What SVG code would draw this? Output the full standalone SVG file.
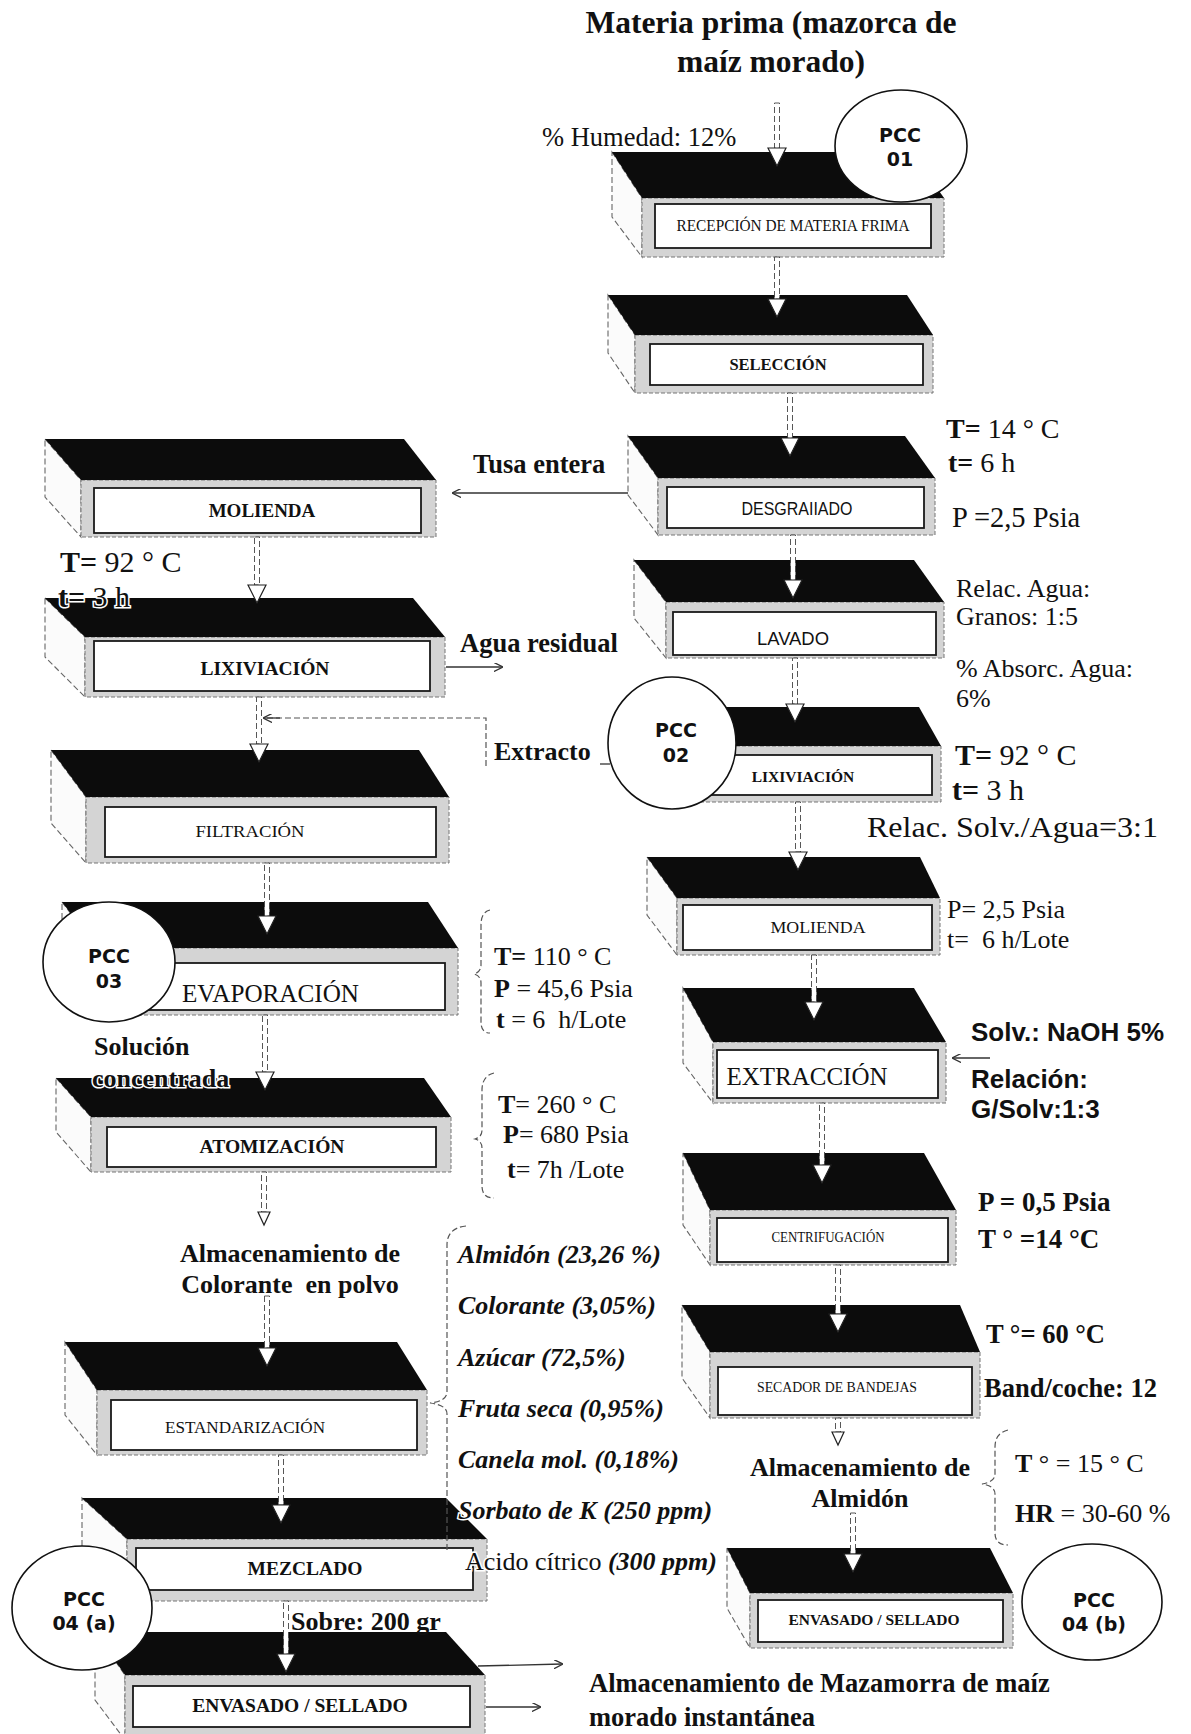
<svg xmlns="http://www.w3.org/2000/svg" xmlns:xlink="http://www.w3.org/1999/xlink" width="1191" height="1734" viewBox="0 0 1191 1734">
<defs>
<style>
.top{fill:#0c0c0c}
.front{fill:#d4d4d4;stroke:#777;stroke-width:1;stroke-dasharray:4 2}
.side{fill:#fbfbfb;stroke:#666;stroke-width:1.1;stroke-dasharray:6 3}
.lab{fill:#fff;stroke:#1a1a1a;stroke-width:1.8}
.pcc{fill:#fff;stroke:#111;stroke-width:1.6}
.s{font-family:"Liberation Serif","Times New Roman",serif;fill:#111}
.ss{font-family:"Liberation Sans",Arial,sans-serif;fill:#111}
.b{font-weight:bold}
.i{font-style:italic}
.m{text-anchor:middle}
.halo{stroke:#fff;stroke-width:3;paint-order:stroke}
.shaft{fill:#fff;stroke:#444;stroke-width:0.9;stroke-dasharray:6 3}
.head{fill:#fff;stroke:#222;stroke-width:1.2}
.ln{fill:none;stroke:#333;stroke-width:1.3}
.dl{fill:none;stroke:#555;stroke-width:1.2;stroke-dasharray:6 3}
.pt{font-family:"DejaVu Sans","Liberation Sans",Arial,sans-serif;font-weight:bold;font-size:19px;fill:#111;text-anchor:middle}
</style>
<path id="ah" class="head" d="M-9,-18 L9,-18 L0,0 Z"/>
<marker id="oa" viewBox="0 0 10 10" refX="9" refY="5" markerWidth="9" markerHeight="9" orient="auto" markerUnits="userSpaceOnUse">
<path d="M0,0 L10,5 L0,10" fill="none" stroke="#333" stroke-width="1.5"/>
</marker>
</defs>
<rect width="1191" height="1734" fill="#fff"/>

<!-- Right column nodes -->
<g id="n-recepcion">
<polygon class="side" points="612,152 642,198 642,257 612,217"/>
<rect class="front" x="642" y="198" width="302" height="59"/>
<polygon class="top" points="612,152 912,152 944,198 642,198"/>
<rect class="lab" x="655" y="204" width="276" height="44"/>
<text class="s m" x="793" y="231" font-size="16" textLength="233" lengthAdjust="spacingAndGlyphs">RECEPCIÓN DE MATERIA FRIMA</text>
</g>
<g id="n-seleccion">
<polygon class="side" points="608,295 635,335 635,393 608,353"/>
<rect class="front" x="635" y="335" width="298" height="58"/>
<polygon class="top" points="608,295 907,295 933,335 635,335"/>
<rect class="lab" x="650" y="344" width="273" height="41"/>
<text class="s b m" x="778" y="370" font-size="16.5">SELECCIÓN</text>
</g>
<g id="n-desgranado">
<polygon class="side" points="628,436 658,478 658,535 628,495"/>
<rect class="front" x="658" y="478" width="277" height="57"/>
<polygon class="top" points="628,436 905,436 935,478 658,478"/>
<rect class="lab" x="667" y="487" width="257" height="41"/>
<text class="ss m" x="797" y="515" font-size="18" textLength="111" lengthAdjust="spacingAndGlyphs">DESGRAIIADO</text>
</g>
<g id="n-lavado">
<polygon class="side" points="634,560 666,602 666,658 634,618"/>
<rect class="front" x="666" y="602" width="278" height="56"/>
<polygon class="top" points="634,560 914,560 944,602 666,602"/>
<rect class="lab" x="673" y="612" width="263" height="43"/>
<text class="ss m" x="793" y="645" font-size="18" textLength="72" lengthAdjust="spacingAndGlyphs">LAVADO</text>
</g>
<g id="n-lixiviacion-r">
<polygon class="side" points="640,707 670,746 670,802 640,762"/>
<rect class="front" x="670" y="746" width="271" height="56"/>
<polygon class="top" points="640,707 919,707 941,746 670,746"/>
<rect class="lab" x="680" y="755" width="252" height="40"/>
<text class="s b m" x="803" y="782" font-size="15.5">LIXIVIACIÓN</text>
</g>
<g id="n-molienda-r">
<polygon class="side" points="647,857 677,898 677,955 647,915"/>
<rect class="front" x="677" y="898" width="263" height="57"/>
<polygon class="top" points="647,857 920,857 940,898 677,898"/>
<rect class="lab" x="683" y="905" width="249" height="45"/>
<text class="s m" x="818" y="933" font-size="16" textLength="95" lengthAdjust="spacingAndGlyphs">MOLIENDA</text>
</g>
<g id="n-extraccion">
<polygon class="side" points="683,988 713,1042 713,1103 683,1063"/>
<rect class="front" x="713" y="1042" width="233" height="61"/>
<polygon class="top" points="683,988 914,988 946,1042 713,1042"/>
<rect class="lab" x="717" y="1050" width="221" height="48"/>
<text class="s m" x="807" y="1085" font-size="26" textLength="161" lengthAdjust="spacingAndGlyphs">EXTRACCIÓN</text>
</g>
<g id="n-centrifugacion">
<polygon class="side" points="683,1153 710,1210 710,1265 683,1225"/>
<rect class="front" x="710" y="1210" width="246" height="55"/>
<polygon class="top" points="683,1153 924,1153 956,1210 710,1210"/>
<rect class="lab" x="717" y="1218" width="231" height="44"/>
<text class="s m" x="828" y="1242" font-size="14" textLength="113" lengthAdjust="spacingAndGlyphs">CENTRIFUGACIÓN</text>
</g>
<g id="n-secador">
<polygon class="side" points="682,1305 710,1352 710,1418 682,1378"/>
<rect class="front" x="710" y="1352" width="270" height="66"/>
<polygon class="top" points="682,1305 960,1305 980,1352 710,1352"/>
<rect class="lab" x="718" y="1367" width="254" height="48"/>
<text class="s m" x="837" y="1392" font-size="14" textLength="160" lengthAdjust="spacingAndGlyphs">SECADOR DE BANDEJAS</text>
</g>
<g id="n-envasado-r">
<polygon class="side" points="727,1548 750,1593 750,1648 727,1608"/>
<rect class="front" x="750" y="1593" width="263" height="55"/>
<polygon class="top" points="727,1548 990,1548 1013,1593 750,1593"/>
<rect class="lab" x="758" y="1600" width="245" height="42"/>
<text class="s b m" x="874" y="1625" font-size="15.5">ENVASADO / SELLADO</text>
</g>

<!-- Left column nodes -->
<g id="n-molienda-l">
<polygon class="side" points="45,439 81,480 81,537 45,497"/>
<rect class="front" x="81" y="480" width="355" height="57"/>
<polygon class="top" points="45,439 404,439 436,480 81,480"/>
<rect class="lab" x="94" y="488" width="327" height="45"/>
<text class="s b m" x="262" y="517" font-size="19">MOLIENDA</text>
</g>
<g id="n-lixiviacion-l">
<polygon class="side" points="45,598 85,637 85,697 45,657"/>
<rect class="front" x="85" y="637" width="360" height="60"/>
<polygon class="top" points="45,598 413,598 445,637 85,637"/>
<rect class="lab" x="94" y="641" width="336" height="50"/>
<text class="s b m" x="265" y="675" font-size="19.5">LIXIVIACIÓN</text>
</g>
<g id="n-filtracion">
<polygon class="side" points="51,750 86,797 86,863 51,823"/>
<rect class="front" x="86" y="797" width="363" height="66"/>
<polygon class="top" points="51,750 419,750 449,797 86,797"/>
<rect class="lab" x="105" y="807" width="331" height="50"/>
<text class="s m" x="250" y="837" font-size="17" textLength="109" lengthAdjust="spacingAndGlyphs">FILTRACIÓN</text>
</g>
<g id="n-evaporacion">
<polygon class="side" points="62,902 97,948 97,1015 62,975"/>
<rect class="front" x="97" y="948" width="361" height="67"/>
<polygon class="top" points="62,902 428,902 458,948 97,948"/>
<rect class="lab" x="140" y="963" width="305" height="47"/>
<text class="s" x="182" y="1002" font-size="25" textLength="177" lengthAdjust="spacingAndGlyphs">EVAPORACIÓN</text>
</g>
<g id="n-atomizacion">
<polygon class="side" points="56,1078 91,1117 91,1172 56,1132"/>
<rect class="front" x="91" y="1117" width="360" height="55"/>
<polygon class="top" points="56,1078 424,1078 451,1117 91,1117"/>
<rect class="lab" x="107" y="1127" width="329" height="40"/>
<text class="s b m" x="272" y="1153" font-size="18" textLength="145" lengthAdjust="spacingAndGlyphs">ATOMIZACIÓN</text>
</g>
<g id="n-estandarizacion">
<polygon class="side" points="65,1342 97,1390 97,1455 65,1415"/>
<rect class="front" x="97" y="1390" width="330" height="65"/>
<polygon class="top" points="65,1342 397,1342 427,1390 97,1390"/>
<rect class="lab" x="111" y="1400" width="306" height="50"/>
<text class="s m" x="245" y="1433" font-size="16" textLength="160" lengthAdjust="spacingAndGlyphs">ESTANDARIZACIÓN</text>
</g>
<g id="n-mezclado">
<polygon class="side" points="82,1498 127,1539 127,1601 82,1561"/>
<rect class="front" x="127" y="1539" width="360" height="62"/>
<polygon class="top" points="82,1498 446,1498 487,1539 127,1539"/>
<rect class="lab" x="136" y="1548" width="337" height="42"/>
<text class="s b m" x="305" y="1575" font-size="19.5">MEZCLADO</text>
</g>
<g id="n-envasado-l">
<polygon class="side" points="95,1632 125,1675 125,1740 95,1700"/>
<rect class="front" x="125" y="1675" width="360" height="65"/>
<polygon class="top" points="95,1632 446,1632 485,1675 125,1675"/>
<rect class="lab" x="133" y="1686" width="337" height="41"/>
<text class="s b m" x="300" y="1712" font-size="19.5">ENVASADO / SELLADO</text>
</g>

<!-- Connectors -->
<g id="connectors">
<rect class="shaft" x="774.5" y="103" width="5" height="45"/><use xlink:href="#ah" href="#ah" x="777" y="166"/>
<rect class="shaft" x="774.5" y="257" width="5" height="42"/><use xlink:href="#ah" href="#ah" x="777" y="317"/>
<rect class="shaft" x="787.5" y="393" width="5" height="45"/><use xlink:href="#ah" href="#ah" x="790" y="456"/>
<rect class="shaft" x="790.5" y="535" width="5" height="45"/><use xlink:href="#ah" href="#ah" x="793" y="598"/>
<rect class="shaft" x="792.5" y="658" width="5" height="46"/><use xlink:href="#ah" href="#ah" x="795" y="722"/>
<rect class="shaft" x="795.5" y="802" width="5" height="50"/><use xlink:href="#ah" href="#ah" x="798" y="870"/>
<rect class="shaft" x="811.5" y="955" width="5" height="47"/><use xlink:href="#ah" href="#ah" x="814" y="1020"/>
<rect class="shaft" x="819.5" y="1103" width="5" height="62"/><use xlink:href="#ah" href="#ah" x="822" y="1183"/>
<rect class="shaft" x="835.5" y="1265" width="5" height="49"/><use xlink:href="#ah" href="#ah" x="838" y="1332"/>
<rect class="shaft" x="835.5" y="1418" width="5" height="14"/><path class="head" d="M832,1432 L844,1432 L838,1445 Z"/>
<rect class="shaft" x="850.5" y="1513" width="5" height="41"/><use xlink:href="#ah" href="#ah" x="853" y="1572"/>

<rect class="shaft" x="254.5" y="537" width="5" height="48"/><use xlink:href="#ah" href="#ah" x="257" y="603"/>
<rect class="shaft" x="256.5" y="697" width="5" height="47"/><use xlink:href="#ah" href="#ah" x="259" y="762"/>
<rect class="shaft" x="264.5" y="863" width="5" height="53"/><use xlink:href="#ah" href="#ah" x="267" y="934"/>
<rect class="shaft" x="262.5" y="1015" width="5" height="57"/><use xlink:href="#ah" href="#ah" x="265" y="1090"/>
<rect class="shaft" x="261.5" y="1172" width="5" height="40"/><path class="head" d="M258,1212 L270,1212 L264,1225 Z"/>
<rect class="shaft" x="264.5" y="1296" width="5" height="52"/><use xlink:href="#ah" href="#ah" x="267" y="1366"/>
<rect class="shaft" x="278.5" y="1455" width="5" height="50"/><use xlink:href="#ah" href="#ah" x="281" y="1523"/>
<rect class="shaft" x="283.5" y="1601" width="5" height="53"/><use xlink:href="#ah" href="#ah" x="286" y="1672"/>

<path class="ln" d="M628,493 L453,493" marker-end="url(#oa)"/>
<path class="ln" d="M446,667 L502,667" marker-end="url(#oa)"/>
<path class="dl" d="M486,766 L486,718 L266,718"/>
<path class="ln" d="M280,718 L264,718" marker-end="url(#oa)"/>
<path class="ln" d="M600,764 L610,764"/>
<path class="ln" d="M990,1058 L953,1058" marker-end="url(#oa)"/>
<path class="ln" d="M478,1666 L562,1664" marker-end="url(#oa)"/>
<path class="ln" d="M486,1707 L540,1707" marker-end="url(#oa)"/>

<path class="dl" d="M490,910 Q481,912 481,925 L481,965 Q481,972 474,974 Q481,976 481,983 L481,1022 Q481,1033 490,1033"/>
<path class="dl" d="M494,1073 Q482,1076 482,1090 L482,1130 Q482,1137 475,1139 Q482,1141 482,1148 L482,1186 Q482,1198 494,1198"/>
<path class="dl" d="M466,1226 Q447,1228 447,1245 L447,1392 Q447,1401 430,1403 Q447,1405 447,1414 L447,1550"/>
<path class="dl" d="M1008,1430 Q995,1433 995,1447 L995,1474 Q995,1482 982,1484 Q995,1486 995,1494 L995,1533 Q995,1545 1008,1545"/>
</g>

<!-- PCC circles -->
<g id="pcc01"><ellipse class="pcc" cx="901" cy="146" rx="66" ry="56"/><text class="pt" x="900" y="142">PCC</text><text class="pt" x="900" y="166">01</text></g>
<g id="pcc02"><ellipse class="pcc" cx="672" cy="743" rx="64" ry="66"/><text class="pt" x="676" y="737">PCC</text><text class="pt" x="676" y="762">02</text></g>
<g id="pcc03"><ellipse class="pcc" cx="109" cy="962" rx="66" ry="60"/><text class="pt" x="109" y="963">PCC</text><text class="pt" x="109" y="988">03</text></g>
<g id="pcc04a"><ellipse class="pcc" cx="82" cy="1608" rx="70" ry="62"/><text class="pt" x="84" y="1606">PCC</text><text class="pt" x="84" y="1630">04 (a)</text></g>
<g id="pcc04b"><ellipse class="pcc" cx="1092" cy="1602" rx="70" ry="58"/><text class="pt" x="1094" y="1607">PCC</text><text class="pt" x="1094" y="1631">04 (b)</text></g>

<!-- Texts -->
<g id="labels">
<text class="s b m" x="771" y="33" font-size="31.5">Materia prima (mazorca de</text>
<text class="s b m" x="771" y="72" font-size="31.5">maíz morado)</text>
<text class="s" x="542" y="146" font-size="26.5">% Humedad: 12%</text>

<text class="s" x="946" y="438" font-size="28"><tspan class="b">T=</tspan> 14 ° C</text>
<text class="s" x="948" y="472" font-size="28"><tspan class="b">t=</tspan> 6 h</text>
<text class="s" x="952" y="527" font-size="28.5">P =2,5 Psia</text>
<text class="s" x="956" y="597" font-size="26">Relac. Agua:</text>
<text class="s" x="956" y="625" font-size="26">Granos: 1:5</text>
<text class="s" x="956" y="677" font-size="26">% Absorc. Agua:</text>
<text class="s" x="956" y="707" font-size="26">6%</text>
<text class="s" x="955" y="765" font-size="30"><tspan class="b">T=</tspan> 92 ° C</text>
<text class="s" x="952" y="800" font-size="30"><tspan class="b">t=</tspan> 3 h</text>
<text class="s" x="867" y="837" font-size="30" textLength="291" lengthAdjust="spacingAndGlyphs">Relac. Solv./Agua=3:1</text>
<text class="s" x="947" y="918" font-size="26">P= 2,5 Psia</text>
<text class="s" x="947" y="948" font-size="26" style="white-space:pre">t=  6 h/Lote</text>
<text class="ss b" x="971" y="1041" font-size="26">Solv.: NaOH 5%</text>
<text class="ss b" x="971" y="1088" font-size="26">Relación:</text>
<text class="ss b" x="971" y="1118" font-size="26">G/Solv:1:3</text>
<text class="s b" x="978" y="1211" font-size="27">P = 0,5 Psia</text>
<text class="s b" x="978" y="1248" font-size="27">T ° =14 °C</text>
<text class="s b" x="986" y="1343" font-size="26.5">T °= 60 °C</text>
<text class="s b" x="984" y="1397" font-size="26.5">Band/coche: 12</text>
<text class="s b m" x="860" y="1476" font-size="26">Almacenamiento de</text>
<text class="s b m" x="860" y="1507" font-size="26">Almidón</text>
<text class="s" x="1015" y="1472" font-size="26"><tspan class="b">T</tspan> ° = 15 ° C</text>
<text class="s" x="1015" y="1522" font-size="26"><tspan class="b">HR</tspan> = 30-60 %</text>
<text class="s b" x="589" y="1692" font-size="26.5">Almacenamiento de Mazamorra de maíz</text>
<text class="s b" x="589" y="1726" font-size="26.5">morado instantánea</text>

<text class="s b" x="473" y="473" font-size="26.5">Tusa entera</text>
<text class="s" x="60" y="572" font-size="30"><tspan class="b">T=</tspan> 92 ° C</text>
<text class="s halo" x="58" y="607" font-size="30"><tspan class="b">t=</tspan> 3 h</text>
<text class="s b" x="460" y="652" font-size="26.5">Agua residual</text>
<text class="s b" x="494" y="760" font-size="26">Extracto</text>
<text class="s" x="494" y="965" font-size="26"><tspan class="b">T=</tspan> 110 ° C</text>
<text class="s" x="494" y="997" font-size="26"><tspan class="b">P</tspan> = 45,6 Psia</text>
<text class="s" x="496" y="1028" font-size="26" style="white-space:pre"><tspan class="b">t</tspan> = 6  h/Lote</text>
<text class="s b" x="94" y="1055" font-size="26">Solución</text>
<text class="s b halo" x="92" y="1087" font-size="26">concentrada</text>
<text class="s" x="498" y="1113" font-size="26"><tspan class="b">T</tspan>= 260 ° C</text>
<text class="s" x="503" y="1143" font-size="26"><tspan class="b">P</tspan>= 680 Psia</text>
<text class="s" x="507" y="1178" font-size="26"><tspan class="b">t</tspan>= 7h /Lote</text>
<text class="s b m" x="290" y="1262" font-size="26">Almacenamiento de</text>
<text class="s b m" x="290" y="1293" font-size="26" style="white-space:pre">Colorante  en polvo</text>
<text class="s b i" x="458" y="1263" font-size="26">Almidón (23,26 %)</text>
<text class="s b i" x="458" y="1314" font-size="26">Colorante (3,05%)</text>
<text class="s b i" x="458" y="1366" font-size="26">Azúcar (72,5%)</text>
<text class="s b i" x="458" y="1417" font-size="26">Fruta seca (0,95%)</text>
<text class="s b i" x="458" y="1468" font-size="26">Canela mol. (0,18%)</text>
<text class="s b i halo" x="458" y="1519" font-size="26">Sorbato de K (250 ppm)</text>
<text class="s halo" x="465" y="1570" font-size="26">Acido cítrico <tspan class="b i">(300 ppm)</tspan></text>
<text class="s b" x="291" y="1630" font-size="26">Sobre: 200 gr</text>
</g>
</svg>
